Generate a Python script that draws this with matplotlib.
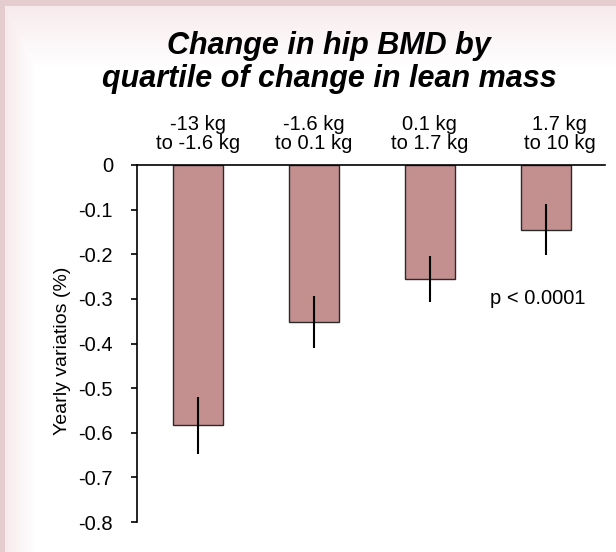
import numpy as np
import matplotlib
matplotlib.use("Agg")
import matplotlib.pyplot as plt
from matplotlib.transforms import blended_transform_factory

plt.rcParams['font.family'] = ['Liberation Sans', 'DejaVu Sans']

# Quartiles of change in lean mass
categories = ["-13 kg\nto -1.6 kg", "-1.6 kg\nto 0.1 kg", "0.1 kg\nto 1.7 kg", "1.7 kg\nto 10 kg"]
# Mean yearly change in hip BMD (%) and error bar half-widths
values = [-0.583, -0.351, -0.256, -0.145]
errors = [0.064, 0.058, 0.051, 0.057]
yticks = [0, -0.1, -0.2, -0.3, -0.4, -0.5, -0.6, -0.7, -0.8]
ytick_labels = ["0", "-0.1", "-0.2", "-0.3", "-0.4", "-0.5", "-0.6", "-0.7", "-0.8"]

W, H = 616, 552
fig = plt.figure(figsize=(W / 100, H / 100), dpi=100)

# Slide-style backdrop: pink frame with a soft tint fading into white
bg = fig.add_axes([0, 0, 1, 1])
bg.set_axis_off()
yy, xx = np.mgrid[0:H, 0:W]
pink = np.array([0.90, 0.80, 0.81])
tint = np.array([0.97, 0.92, 0.93])
white = np.array([1.0, 1.0, 1.0])
fade_top = np.clip((yy - 6) / 60.0, 0, 1)
fade_left = np.clip((xx - 5) / 30.0, 0, 1)
fade = np.minimum(fade_top, fade_left)[..., None]
img = tint + (white - tint) * fade
frame = ((xx < 5) | (yy < 6))[..., None]
img = np.where(frame, pink, img)
bg.imshow(img, extent=[0, 1, 0, 1], aspect='auto', zorder=0)
bg.set_xlim(0, 1)
bg.set_ylim(0, 1)

ax = fig.add_axes([137 / W, 30 / H, 468 / W, 357 / H])
ax.patch.set_alpha(0)
x = np.arange(len(values))
ax.bar(x, values, width=0.431, color='#c48f8f', edgecolor='#2a2a2a', linewidth=1.0, zorder=2)
ax.errorbar(x, values, yerr=errors, fmt='none', ecolor='black', elinewidth=1.5, capsize=0, zorder=3)

ax.set_xlim(-0.526, 3.51)
ax.set_ylim(-0.8, 0)
ax.set_yticks(yticks)
ax.set_yticklabels(ytick_labels, fontsize=14.5)
ax.tick_params(axis='y', direction='out', length=4.3, width=1.2, pad=13)
ax.set_xticks([])
for side in ('right', 'bottom'):
    ax.spines[side].set_visible(False)
ax.spines['left'].set_linewidth(1.2)
ax.spines['top'].set_linewidth(1.2)
ax.spines['left'].set_zorder(4)
ax.spines['top'].set_zorder(4)

ax.set_ylabel("Yearly variatios (%)", fontsize=14)
ax.yaxis.set_label_coords(-0.141, 0.48)

# Quartile ranges above each bar
trans = blended_transform_factory(ax.transData, ax.transAxes)
offsets = [0.0, 0.0, 0.0, 0.12]
for xi, lab, off in zip(x, categories, offsets):
    ax.text(xi + off, 1.035, lab, transform=trans, ha='center', va='bottom',
            fontsize=14.5, linespacing=0.95)

ax.text(2.93, -0.30, "p < 0.0001", ha='center', va='center', fontsize=14.5)

fig.text(329 / W, 1 - 31 / H, "Change in hip BMD by\nquartile of change in lean mass",
         ha='center', va='top', fontsize=22, fontweight='bold', fontstyle='italic',
         linespacing=1.14)

fig.savefig("out.png", dpi=100)
